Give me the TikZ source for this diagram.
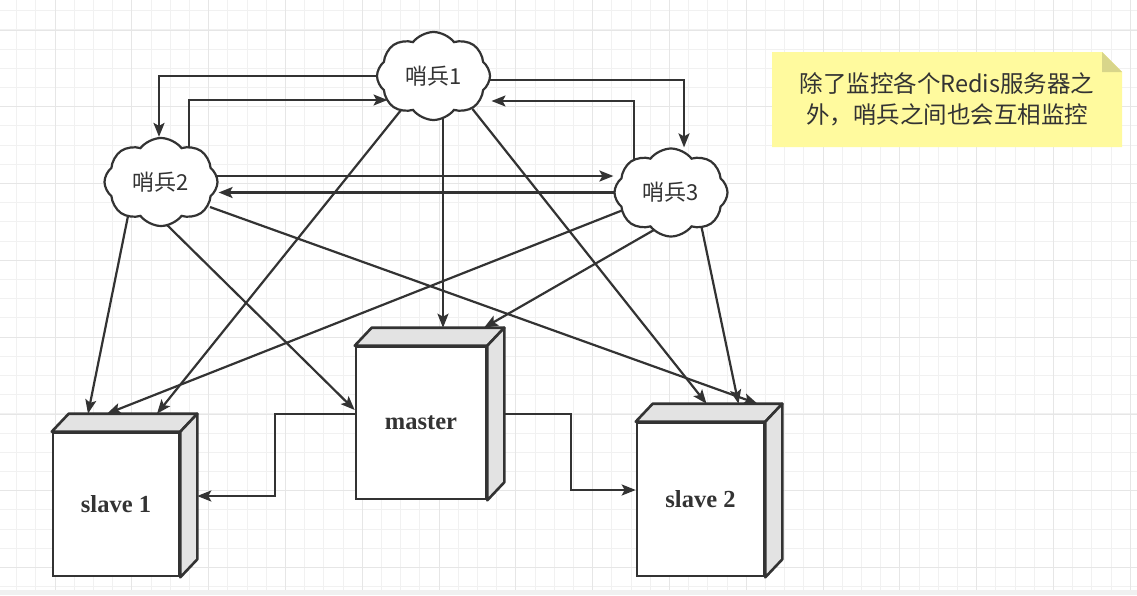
\documentclass[tikz,border=0pt]{standalone}
\usepackage{fontspec}
\setmainfont{Liberation Serif}
\newfontfamily\cjkfont{Noto Sans CJK SC}
\usepackage{tikz}
\usetikzlibrary{arrows.meta,shapes.symbols}

\definecolor{linegray}{HTML}{333333}
\definecolor{textgray}{HTML}{333333}
\definecolor{facegray}{HTML}{E3E3E3}
\definecolor{notefill}{HTML}{FFFA9E}
\definecolor{foldfill}{HTML}{D8D58A}
\definecolor{gridminor}{HTML}{F1F1F1}
\definecolor{gridmajor}{HTML}{E6E6E6}

\pgfdeclarelayer{grid}
\pgfdeclarelayer{edges}
\pgfsetlayers{grid,edges,main}

\begin{document}
\begin{tikzpicture}[
    x=1pt, y=-1pt,
    >={Stealth[length=14pt,width=11pt,inset=3pt]},
    sentinel/.style={cloud, cloud puffs=8, cloud puff arc=105, aspect=1.28, draw=linegray, line width=2.2pt, fill=white, minimum width=113pt, minimum height=88pt, inner sep=0pt, text=textgray, font=\cjkfont\fontsize{22}{26}\selectfont},
    server/.style={draw=linegray, line width=2.6pt, fill=white, inner sep=0pt, text=textgray, font=\bfseries\fontsize{24.5}{28}\selectfont},
    face/.style={draw=linegray, line width=2.6pt, fill=facegray, line join=round},
    conn/.style={->, draw=linegray, line width=2.2pt},
    memo/.style={minimum width=350pt, minimum height=95pt, inner sep=0pt, align=center, text=textgray, font=\cjkfont\fontsize{23.5}{31}\selectfont,
        path picture={
            \fill[notefill] (path picture bounding box.north west) -- ([xshift=-20pt]path picture bounding box.north east) -- ([yshift=-20pt]path picture bounding box.north east) -- (path picture bounding box.south east) -- (path picture bounding box.south west) -- cycle;
            \fill[foldfill] ([xshift=-20pt]path picture bounding box.north east) -- ([yshift=-20pt]path picture bounding box.north east) -- ([xshift=-20pt,yshift=-20pt]path picture bounding box.north east) -- cycle;
        }},
    gridline/.style={draw=gridminor, line width=0.9pt},
    gridbold/.style={draw=gridmajor, line width=0.9pt}
]
\useasboundingbox (0,0) rectangle (1137,595);

\begin{pgfonlayer}{grid}
\fill[white] (0,0) rectangle (1137,595);
\foreach \i in {0,...,58} \draw[gridline] ({16.7+19.2*\i},0) -- ({16.7+19.2*\i},590);
\foreach \j in {0,...,30} \draw[gridline] (0,{10.7+19.2*\j}) -- (1137,{10.7+19.2*\j});
\foreach \i in {0,...,14} \draw[gridbold] ({55+76.8*\i},0) -- ({55+76.8*\i},590);
\foreach \j in {0,...,7} \draw[gridbold] (0,{30+76.8*\j}) -- (1137,{30+76.8*\j});
\fill[gray!12] (0,590) rectangle (1137,595);
\end{pgfonlayer}

\node[sentinel] (s1) at (433.5,76) {哨兵1};
\node[sentinel] (s2) at (161,182) {哨兵2};
\node[sentinel] (s3) at (671,192.5) {哨兵3};

\node[server, minimum width=130pt, minimum height=152pt] (master) at (421,423) {master};
\node[server, minimum width=126pt, minimum height=143pt] (slave1) at (116,504.5) {slave 1};
\node[server, minimum width=127pt, minimum height=153pt] (slave2) at (700.5,499.5) {slave 2};

\foreach \s in {master,slave1,slave2} {
    \filldraw[face] (\s.north west) -- ++(17,-18) -- ([shift={(17,-18)}]\s.north east) -- (\s.north east) -- cycle;
    \filldraw[face] (\s.north east) -- ([shift={(17,-18)}]\s.north east) -- ([shift={(17,-18)}]\s.south east) -- (\s.south east) -- cycle;
}

\node[memo] (note) at (947,99.5) {除了监控各个Redis服务器之\\外，哨兵之间也会互相监控};

\begin{pgfonlayer}{edges}
\draw[conn] (s1.center) -| ([xshift=-2pt]s2.north);
\draw[conn] ([xshift=28pt]s2.center) |- ([xshift=-46pt,yshift=-24pt]s1.center);
\draw[conn] ([yshift=-4pt]s1.center) -| ([xshift=13pt]s3.north);
\draw[conn] ([xshift=-37pt]s3.center) |- ([xshift=58pt,yshift=-25pt]s1.center);
\draw[conn] ([yshift=6pt]s2.center) -- ([yshift=16.5pt]s3.west);
\draw[conn] (s3.center) -- ([yshift=-10.5pt]s2.east);

\draw[conn] ([xshift=-30pt,yshift=-31pt]s1.center) -- ([xshift=41pt,yshift=18pt]slave1.north);
\draw[conn] ([xshift=9.5pt,yshift=-36pt]s1.center) -- ([xshift=22pt,yshift=18pt]master.north);
\draw[conn] ([xshift=39pt,yshift=-33pt]s1.center) -- ([xshift=6pt,yshift=18pt]slave2.north);

\draw[conn] ([xshift=-33pt,yshift=-34pt]s2.center) -- ([xshift=-28pt,yshift=18pt]slave1.north);
\draw[conn] ([xshift=3pt,yshift=-40pt]s2.center) -- ([yshift=13pt]master.west);
\draw[conn] ([xshift=49pt,yshift=-25pt]s2.center) -- ([xshift=57pt,yshift=18pt]slave2.north);

\draw[conn] ([xshift=-39pt,yshift=-14pt]s3.center) -- ([xshift=-9pt,yshift=18pt]slave1.north);
\draw[conn] ([xshift=-11pt,yshift=-34pt]s3.center) -- ([xshift=63pt,yshift=18pt]master.north);
\draw[conn] ([xshift=30pt,yshift=-32pt]s3.center) -- ([xshift=38pt,yshift=18pt]slave2.north);

\draw[conn] ([yshift=9pt]master.west) -- ++(-80,0) |- ([xshift=17pt,yshift=8.5pt]slave1.east);
\draw[conn] ([xshift=17pt,yshift=9pt]master.east) -- ++(67,0) |- ([yshift=9.5pt]slave2.west);
\end{pgfonlayer}
\end{tikzpicture}
\end{document}
